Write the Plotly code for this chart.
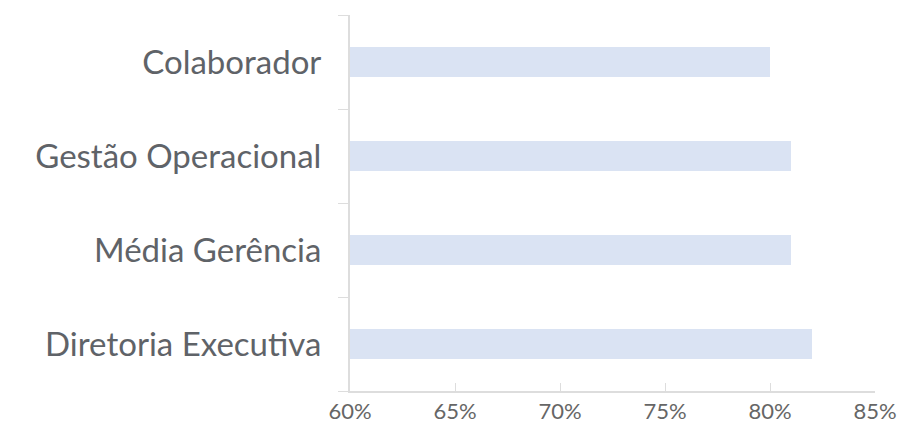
import plotly.graph_objects as go

categories = ["Colaborador", "Gestão Operacional", "Média Gerência", "Diretoria Executiva"]
values = [80, 81, 81, 82]
x_ticks = [60, 65, 70, 75, 80, 85]
x_tick_labels = ["60%", "65%", "70%", "75%", "80%", "85%"]

fig = go.Figure(go.Bar(
    x=values, y=categories, orientation="h",
    marker=dict(color="#dae3f3", line=dict(width=0)),
    hoverinfo="skip",
))

fig.update_layout(
    width=902, height=429,
    margin=dict(l=350, r=27, t=15, b=38, autoexpand=False),
    paper_bgcolor="white", plot_bgcolor="white",
    bargap=0.68,
    showlegend=False,
    font=dict(family="Lato", color="#5f6368"),
)
fig.update_xaxes(
    range=[60, 85], tickmode="array", tickvals=x_ticks, ticktext=x_tick_labels,
    automargin=False,
    showgrid=False, zeroline=False,
    showline=True, linecolor="#dddddd", linewidth=2,
    ticks="inside", ticklen=8, tickcolor="#dddddd", tickwidth=1,
    tickfont=dict(size=22, color="#666666"),
)
fig.update_yaxes(
    categoryorder="array", categoryarray=categories[::-1],
    tickson="boundaries", automargin=False,
    showgrid=False, zeroline=False,
    showline=True, linecolor="#dddddd", linewidth=2,
    ticks="outside", ticklen=10, tickcolor="#dddddd", tickwidth=1,
    tickfont=dict(size=33, color="#5f6368"),
    ticklabelstandoff=20,
)

fig.write_html(
    "out.html",
    config={"displayModeBar": False},
    post_script="document.body.style.margin='0';document.body.style.padding='0';",
)
